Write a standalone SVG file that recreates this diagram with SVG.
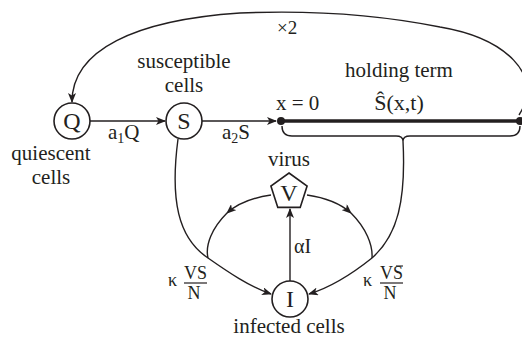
<svg xmlns="http://www.w3.org/2000/svg" width="522" height="339" viewBox="0 0 522 339">
<style>
text { font-family: "Liberation Serif", "Times New Roman", serif; fill: #231f20; }
.lbl { font-size: 21px; }
.mid { text-anchor: middle; }
.node { font-size: 24px; text-anchor: middle; }
.edge { fill: none; stroke: #231f20; stroke-width: 1.4; }
.shape { fill: #fff; stroke: #231f20; stroke-width: 1.6; }
.frac { font-size: 18px; text-anchor: middle; }
</style>
<defs>
<marker id="ah" viewBox="0 0 10 8" refX="9" refY="4" markerWidth="10" markerHeight="8" markerUnits="userSpaceOnUse" orient="auto">
<path d="M0,0 L10,4 L0,8 L2.5,4 z" fill="#231f20"/>
</marker>
</defs>

<g id="connectors">
<path class="edge" d="M90,121 L165,121" marker-end="url(#ah)"/>
<path class="edge" d="M202,121 L276,121" marker-end="url(#ah)"/>
<path d="M281,121 L520,121" stroke="#231f20" stroke-width="3.5" fill="none"/>
<circle cx="281" cy="121" r="4" fill="#231f20"/>
<circle cx="520" cy="121" r="4" fill="#231f20"/>
<path class="edge" d="M282,126 Q282,136 292,136 L396,136 Q403,136 403,141 Q403,136 410,136 L510,136 Q520,136 520,126"/>
<path class="edge" d="M519,115 C 545,75 505,38 440,27 C 380,15 310,10 240,13 C 135,20 72,50 72,102" marker-end="url(#ah)"/>
<path class="edge" d="M178,139 C 170,200 178,238 208,258 C 228,272 250,287 271,294" marker-end="url(#ah)"/>
<path class="edge" d="M271,195 C 250,198 236,205 227,213" marker-end="url(#ah)"/>
<path class="edge" d="M227,213 C 212,228 205,245 208,258"/>
<path class="edge" d="M307,195 C 328,198 342,205 351,213" marker-end="url(#ah)"/>
<path class="edge" d="M351,213 C 366,228 373,245 372,258"/>
<path class="edge" d="M403,141 C 406,200 398,235 372,258 C 352,274 332,287 309,294" marker-end="url(#ah)"/>
<path class="edge" d="M290,281 L290,209" marker-end="url(#ah)"/>
</g>

<g id="node-Q">
<circle class="shape" cx="72" cy="121" r="18"/>
<text class="node" x="72" y="129">Q</text>
<text class="lbl mid" x="51" y="160">quiescent</text>
<text class="lbl mid" x="51" y="184">cells</text>
</g>

<g id="node-S">
<circle class="shape" cx="184" cy="121" r="18"/>
<text class="node" x="184" y="129">S</text>
<text class="lbl mid" x="184" y="68">susceptible</text>
<text class="lbl mid" x="184" y="92">cells</text>
</g>

<g id="node-holding">
<text class="lbl" x="276" y="110">x = 0</text>
<text class="lbl mid" x="399" y="77">holding term</text>
<text class="mid" x="399" y="110" font-size="22">Ŝ(x,t)</text>
</g>

<g id="node-V">
<polygon class="shape" points="289,173 307.1,186.1 300.2,207.4 277.8,207.4 270.9,186.1"/>
<text class="node" x="289" y="201" font-size="22">V</text>
<text class="lbl mid" x="289" y="166">virus</text>
</g>

<g id="node-I">
<circle class="shape" cx="290" cy="299" r="18"/>
<text class="node" x="290" y="307">I</text>
<text class="lbl mid" x="289" y="333">infected cells</text>
</g>

<g id="labels">
<text class="lbl" x="108" y="139">a<tspan font-size="14" dy="4">1</tspan><tspan dy="-4">Q</tspan></text>
<text class="lbl" x="222" y="139">a<tspan font-size="14" dy="4">2</tspan><tspan dy="-4">S</tspan></text>
<text x="277" y="34" font-size="19">×2</text>
<text x="294" y="253" font-size="20">αI</text>
<text x="168" y="286" font-size="18">κ</text>
<text class="frac" x="195.5" y="279">VS</text>
<line x1="184" y1="283" x2="207" y2="283" stroke="#231f20" stroke-width="1.2"/>
<text class="frac" x="194" y="299" font-size="17">N</text>
<text x="363" y="286" font-size="18">κ</text>
<text class="frac" x="391.5" y="279">VS</text>
<line x1="396" y1="266" x2="403" y2="266" stroke="#231f20" stroke-width="1.1"/>
<line x1="380" y1="283" x2="403" y2="283" stroke="#231f20" stroke-width="1.2"/>
<text class="frac" x="390" y="299" font-size="17">N</text>
</g>
</svg>
